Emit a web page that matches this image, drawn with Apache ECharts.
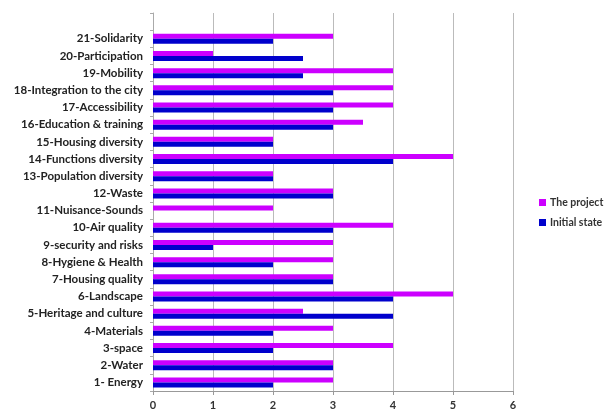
<!DOCTYPE html>
<html>
<head>
<meta charset="utf-8">
<script src="https://cdn.jsdelivr.net/npm/echarts@6/dist/echarts.min.js"></script>
<style>
  html, body { margin: 0; padding: 0; background: #fff; }
  #chart { width: 608px; height: 412px; }
</style>
</head>
<body>
<div id="chart"></div>
<script>
// Criteria, listed bottom to top; the blank entry leaves an empty row at the top
const categories = [
  '1- Energy', '2-Water', '3-space', '4-Materials', '5-Heritage and culture',
  '6-Landscape', '7-Housing quality', '8-Hygiene & Health', '9-security and risks',
  '10-Air quality', '11-Nuisance-Sounds', '12-Waste', '13-Population diversity',
  '14-Functions diversity', '15-Housing diversity', '16-Education & training',
  '17-Accessibility', '18-Integration to the city', '19-Mobility',
  '20-Participation', '21-Solidarity', ''
];
const projectScores = [3, 3, 4, 3, 2.5, 5, 3, 3, 3, 4, 2, 3, 2, 5, 2, 3.5, 4, 4, 4, 1, 3, null];
const initialScores = [2, 3, 2, 2, 4, 4, 3, 2, 1, 3, 0, 3, 2, 4, 2, 3, 3, 3, 2.5, 2.5, 2, null];
const seriesNames = ['The project', 'Initial state'];
const xTicks = [0, 1, 2, 3, 4, 5, 6];

const font = 'Lato, "Open Sans", sans-serif';
const chart = echarts.init(document.getElementById('chart'), null, { renderer: 'canvas' });

chart.setOption({
  animation: false,
  backgroundColor: '#ffffff',
  grid: { left: 153, right: 95, top: 13, bottom: 21, containLabel: false },
  legend: {
    orient: 'vertical',
    left: 534,
    top: 192,
    itemWidth: 7,
    itemHeight: 7,
    itemGap: 9,
    icon: 'rect',
    textStyle: { fontFamily: font, fontWeight: 'bold', fontSize: 10.5, color: '#333', padding: [0, 0, 0, -1] },
    data: seriesNames
  },
  xAxis: {
    type: 'value',
    min: xTicks[0],
    max: xTicks[xTicks.length - 1],
    interval: 1,
    axisLine: { show: true, lineStyle: { color: '#999', width: 1 } },
    axisTick: { show: true, length: 4, lineStyle: { color: '#999' } },
    axisLabel: { fontFamily: font, fontWeight: 'bold', fontSize: 11, color: '#333', margin: 9 },
    splitLine: { show: true, lineStyle: { color: '#bbb', width: 1 } }
  },
  yAxis: {
    type: 'category',
    data: categories,
    axisLine: { show: true, lineStyle: { color: '#aaa', width: 1 } },
    axisTick: { show: true, length: 3, lineStyle: { color: '#aaa' } },
    axisLabel: { fontFamily: font, fontWeight: 'bold', fontSize: 11.5, color: '#222', margin: 10 },
    splitLine: { show: false }
  },
  series: [
    {
      name: seriesNames[0],
      type: 'bar',
      data: projectScores,
      barWidth: 5,
      barGap: '0%',
      itemStyle: { color: '#cc00ff' }
    },
    {
      name: seriesNames[1],
      type: 'bar',
      data: initialScores,
      barWidth: 5,
      barGap: '0%',
      itemStyle: { color: '#0000cc' }
    }
  ]
});
</script>
</body>
</html>
